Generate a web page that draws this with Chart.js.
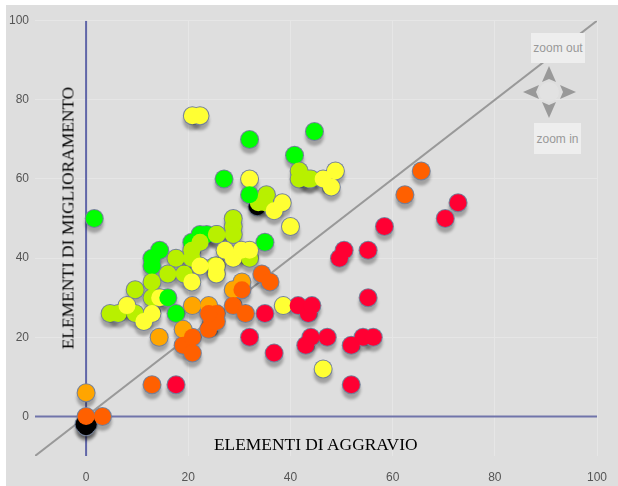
<!DOCTYPE html>
<html>
<head>
<meta charset="utf-8">
<script src="https://cdn.jsdelivr.net/npm/chart.js@4"></script>
<style>
html, body { margin: 0; background: #fff; }
#wrap { position: absolute; left: 6px; top: 5px; width: 612px; height: 481px; background: #dedede; overflow: hidden; }
canvas { position: absolute; left: 0; top: 0; }
.lbl { position: absolute; font-family: "Liberation Serif", serif; font-size: 17.4px; color: #000; white-space: nowrap; }
.btn { position: absolute; background: #eeeeee; color: #999; font: 12px "Liberation Sans", Arial, sans-serif; text-align: center; }
svg { position: absolute; left: 0; top: 0; }
</style>
</head>
<body>
<div id="wrap">
  <canvas id="chart" width="612" height="481"></canvas>
  <div class="lbl" style="left:208px;top:429px">ELEMENTI DI AGGRAVIO</div>
  <div class="lbl" style="left:62px;top:213px;transform:translate(-50%,-50%) rotate(-90deg)">ELEMENTI DI MIGLIORAMENTO</div>
  <div class="btn" style="left:525px;top:28px;width:54px;height:30px;line-height:31px">zoom out</div>
  <div class="btn" style="left:528px;top:118px;width:47px;height:31px;line-height:32px">zoom in</div>
  <svg width="612" height="481" fill="#999">
    <circle cx="543" cy="87" r="10" fill="#e2e2e2"/>
    <polygon points="543,61 550,77 543,74 536,77"/>
    <polygon points="543,113 550,97 543,100 536,97"/>
    <polygon points="517,87 533,80 530,87 533,94"/>
    <polygon points="570,87 554,80 557,87 554,94"/>
  </svg>
</div>
<script>
// values: [aggravio, miglioramento]
const red = [[17.6,8],[32,20],[36.8,16],[35,26],[41.5,28],[43.5,26],[44.2,28],[43,18],[44,20],[47.2,20],[51.9,18],[54.2,20],[56.2,20],[55.2,30],[51.9,8],[55.2,42],[50.5,42],[49.6,40],[72.8,54],[70.3,50],[58.4,48]];
const darkOrange = [[0,0],[3.2,0],[12.9,8],[19,18],[20.8,20],[20.8,16],[24,22],[25.5,26],[24.6,24],[25.5,24],[24,26],[28.8,28],[31.2,26],[30.5,32],[34.4,36],[36,34],[65.6,62],[62.4,56]];
const orange = [[0,6],[14.3,20],[20.8,28],[24,28],[19,22],[28.8,32],[30.5,34]];
const greenTop = [[16,30],[17.6,26],[32,56]];
const yellow = [[20.8,76],[22.3,76],[32,60],[38.4,54],[36.8,52],[40,48],[48.8,62],[48,58],[46.4,60],[46.4,12],[38.6,28],[22.3,38],[20.7,34],[25.5,36],[25.5,38],[27.2,42],[28.8,40],[30.4,42],[32,42],[8,28],[12.9,26],[11.3,24],[14.4,30]];
const lime = [[35.3,56],[33.7,54],[35,54],[41.7,62],[41.7,60],[43.5,60],[44,60],[28.8,50],[28.8,48],[28.8,46],[25.6,46],[17.6,40],[16,36],[19.2,36],[12.9,34],[9.6,32],[12.9,30],[4.7,26],[6.3,26],[9.6,26],[20.7,42],[22.3,44],[20.7,40],[25.5,46],[32,40],[25.2,38]];
const green = [[32,70],[44.7,72],[40.8,66],[27,60],[1.6,50],[35,44],[14.4,42],[12.9,40],[12.9,38],[22.3,46],[23.6,46],[20.7,44]];
const black = [[-0.4,-2],[0.4,-2],[0,-2.6],[33.5,53]];
const diagonal = [[-10,-10],[100,100]];
const axisX = [[-10,0],[100,0]];
const axisY = [[0,-10],[0,100]];

function pts(list) {
    return list.map(function (p) { return { x: p[0], y: p[1] }; });
}

function marks(list, color) {
    return { data: pts(list), backgroundColor: color, borderWidth: 0, pointRadius: 8.5 };
}

// outline and shadow go underneath every marker so that overlaps merge
function halo(list) {
    return { data: pts(list), backgroundColor: "#74819a", borderWidth: 0, pointRadius: 9.5, shadow: true };
}

function rule(list, color, width) {
    return {
        type: "line",
        data: pts(list),
        borderColor: color,
        borderWidth: width,
        pointRadius: 0,
        fill: false
    };
}

const markerShadow = {
    id: "markerShadow",
    beforeDatasetDraw: function (chart, args) {
        if (!chart.data.datasets[args.index].shadow) return;
        const ctx = chart.ctx;
        ctx.save();
        ctx.shadowColor = "rgba(0,0,0,0.28)";
        ctx.shadowOffsetY = 5;
        ctx.shadowBlur = 3;
    },
    afterDatasetDraw: function (chart, args) {
        if (chart.data.datasets[args.index].shadow) chart.ctx.restore();
    }
};

const tickFont = { family: "'Liberation Sans', Arial, sans-serif", size: 12 };

function axis(fit, pad) {
    return {
        type: "linear",
        min: -10,
        max: 100,
        border: { display: false },
        grid: {
            drawTicks: false,
            color: function (c) { return c.tick.value === -10 ? "rgba(0,0,0,0)" : "#e6e6e6"; }
        },
        ticks: {
            stepSize: 20,
            color: "#555",
            font: tickFont,
            padding: pad,
            maxRotation: 0,
            callback: function (v) { return v === -10 ? "" : v; }
        },
        afterFit: fit
    };
}

// first dataset ends up on top
new Chart(document.getElementById("chart"), {
    type: "scatter",
    data: {
        datasets: [
            marks(red, "#ff0033"),
            marks(darkOrange, "#ff6000"),
            marks(orange, "#ffa500"),
            marks(greenTop, "#00ff00"),
            marks(yellow, "#ffff33"),
            marks(lime, "#b8f000"),
            marks(green, "#00ff00"),
            marks(black, "#000000"),
            halo(red),
            halo(darkOrange),
            halo(orange),
            halo(greenTop),
            halo(yellow),
            halo(lime),
            halo(green),
            halo(black),
            rule(diagonal, "#999999", 2),
            rule(axisX, "#7074aa", 2),
            rule(axisY, "#6066a8", 2)
        ]
    },
    options: {
        responsive: false,
        animation: false,
        layout: { autoPadding: false, padding: { top: 15.7, right: 21, bottom: 0, left: 0 } },
        plugins: { legend: { display: false }, tooltip: { enabled: false } },
        scales: {
            x: axis(function (s) { s.height = 30; s.paddingLeft = 0; s.paddingRight = 0; }, 14),
            y: axis(function (s) { s.width = 29; }, 6)
        }
    },
    plugins: [markerShadow]
});
</script>
</body>
</html>
